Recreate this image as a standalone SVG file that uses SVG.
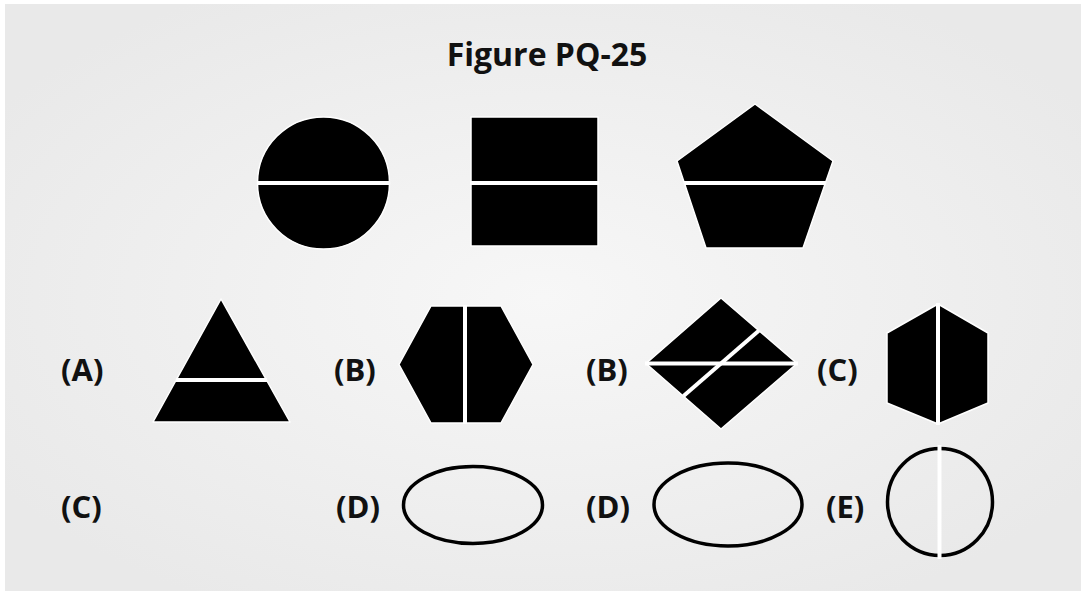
<svg xmlns="http://www.w3.org/2000/svg" width="1086" height="595" viewBox="0 0 1086 595">
<defs>
<radialGradient id="bg" cx="0.5" cy="0.5" r="0.6">
<stop offset="0" stop-color="#f7f7f7"/>
<stop offset="1" stop-color="#e9e9e9"/>
</radialGradient>
</defs>
<style>
.sh{fill:#000;stroke:#fff;stroke-width:1.5;stroke-linejoin:round}
.cut{stroke:#fff;stroke-width:4;fill:none}
.ring{fill:none;stroke:#000;stroke-width:3.5}
.lbl{font-family:"Open Sans","Liberation Sans",sans-serif;font-weight:bold;font-size:31px;fill:#111}
.title{font-family:"Open Sans","Liberation Sans",sans-serif;font-weight:bold;font-size:32px;fill:#111;text-anchor:middle}
</style>
<rect x="0" y="0" width="1086" height="595" fill="#fff"/>
<rect x="5" y="4" width="1076" height="587" fill="url(#bg)"/>
<text class="title" x="547" y="66">Figure PQ-25</text>

<g id="circle-top">
<circle class="sh" cx="323.5" cy="183" r="66"/>
<line class="cut" x1="257" y1="183" x2="390" y2="183"/>
</g>
<g id="square-top">
<rect class="sh" x="471" y="117" width="127" height="129"/>
<line class="cut" x1="470" y1="183" x2="599" y2="183"/>
</g>
<g id="pentagon-top">
<polygon class="sh" points="755,104 833,161 803,248 706,248 677,161"/>
<line class="cut" x1="684" y1="183" x2="826" y2="183"/>
</g>

<g id="option-A">
<text class="lbl" x="61" y="381">(A)</text>
<polygon class="sh" points="221,299 290,422 153,422"/>
<line class="cut" x1="176" y1="380" x2="267" y2="380"/>
</g>
<g id="option-B1">
<text class="lbl" x="334" y="381">(B)</text>
<polygon class="sh" points="431,306 501,306 533,364.5 501,423 431,423 399,364.5"/>
<line class="cut" x1="465" y1="305" x2="465" y2="424"/>
</g>
<g id="option-B2">
<text class="lbl" x="586" y="381">(B)</text>
<polygon class="sh" points="721,298 797,363.5 721,429 646,363.5"/>
<line class="cut" x1="645" y1="363.5" x2="798" y2="363.5"/>
<line class="cut" x1="759" y1="330.5" x2="683.5" y2="396"/>
</g>
<g id="option-C1">
<text class="lbl" x="817" y="381">(C)</text>
<polygon class="sh" points="938,304 988,333 988,403 938,424 887,403 887,333"/>
<line class="cut" x1="938" y1="303" x2="938" y2="425"/>
</g>

<g id="option-C2">
<text class="lbl" x="61" y="518">(C)</text>
</g>
<g id="option-D1">
<text class="lbl" x="336" y="518">(D)</text>
<ellipse class="ring" cx="473" cy="505" rx="69.5" ry="38.5"/>
</g>
<g id="option-D2">
<text class="lbl" x="586" y="518">(D)</text>
<ellipse class="ring" cx="728" cy="504.5" rx="74" ry="41.5"/>
</g>
<g id="option-E">
<text class="lbl" x="826" y="518">(E)</text>
<ellipse class="ring" cx="940" cy="502" rx="52.5" ry="53.5"/>
<line class="cut" x1="939.5" y1="445" x2="939.5" y2="559" stroke-width="3"/>
</g>
</svg>
